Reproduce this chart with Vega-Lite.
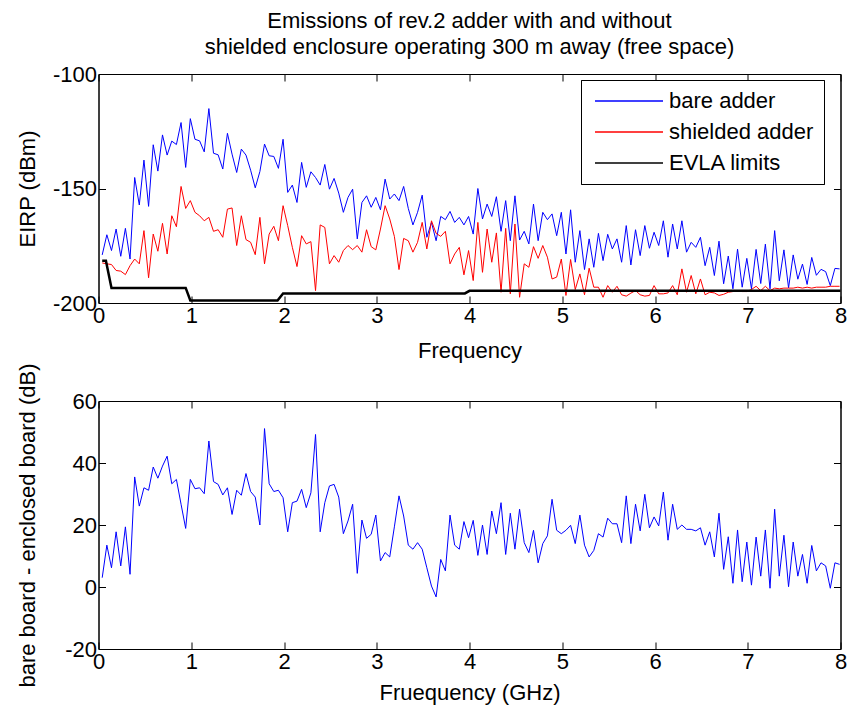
{
  "$schema": "https://vega.github.io/schema/vega-lite/v6.json",
  "background": "white",
  "padding": {"left": 15.5, "top": 9, "right": 2, "bottom": 5},
  "bounds": "flush",
  "spacing": 98,
  "title": {
    "text": ["Emissions of rev.2 adder with and without", "shielded enclosure operating 300 m away (free space)"],
    "font": "Liberation Sans", "fontSize": 22, "fontWeight": "normal", "color": "black",
    "lineHeight": 26, "anchor": "middle", "frame": "group", "offset": 4
  },
  "datasets": {
    "spec": [
      {"f":0.04,"bare adder":-179.0,"shielded adder":-182.5,"diff":3.0},
      {"f":0.09,"bare adder":-170.2,"shielded adder":-182.9,"diff":13.5},
      {"f":0.14,"bare adder":-177.1,"shielded adder":-183.2,"diff":6.2},
      {"f":0.19,"bare adder":-167.7,"shielded adder":-185.8,"diff":17.8},
      {"f":0.24,"bare adder":-179.6,"shielded adder":-186.1,"diff":6.8},
      {"f":0.29,"bare adder":-167.4,"shielded adder":-187.6,"diff":19.4},
      {"f":0.34,"bare adder":-180.8,"shielded adder":-183.7,"diff":4.1},
      {"f":0.39,"bare adder":-145.2,"shielded adder":-180.8,"diff":35.5},
      {"f":0.44,"bare adder":-157.2,"shielded adder":-182.9,"diff":26.1},
      {"f":0.49,"bare adder":-137.6,"shielded adder":-168.4,"diff":32.0},
      {"f":0.54,"bare adder":-157.8,"shielded adder":-189.0,"diff":31.2},
      {"f":0.59,"bare adder":-130.9,"shielded adder":-169.9,"diff":38.7},
      {"f":0.64,"bare adder":-142.4,"shielded adder":-177.4,"diff":35.1},
      {"f":0.69,"bare adder":-126.6,"shielded adder":-165.2,"diff":39.0},
      {"f":0.74,"bare adder":-135.4,"shielded adder":-178.6,"diff":42.2},
      {"f":0.79,"bare adder":-129.3,"shielded adder":-161.9,"diff":33.3},
      {"f":0.84,"bare adder":-130.8,"shielded adder":-166.7,"diff":34.7},
      {"f":0.89,"bare adder":-121.2,"shielded adder":-149.1,"diff":26.7},
      {"f":0.94,"bare adder":-140.8,"shielded adder":-158.7,"diff":18.9},
      {"f":0.99,"bare adder":-119.5,"shielded adder":-155.3,"diff":34.7},
      {"f":1.04,"bare adder":-128.5,"shielded adder":-160.4,"diff":31.7},
      {"f":1.09,"bare adder":-129.2,"shielded adder":-161.9,"diff":32.0},
      {"f":1.14,"bare adder":-134.0,"shielded adder":-164.1,"diff":30.1},
      {"f":1.19,"bare adder":-115.1,"shielded adder":-162.6,"diff":47.1},
      {"f":1.24,"bare adder":-134.6,"shielded adder":-168.7,"diff":34.0},
      {"f":1.29,"bare adder":-135.3,"shielded adder":-168.0,"diff":33.1},
      {"f":1.34,"bare adder":-141.5,"shielded adder":-171.3,"diff":29.7},
      {"f":1.39,"bare adder":-125.9,"shielded adder":-159.0,"diff":32.0},
      {"f":1.44,"bare adder":-135.0,"shielded adder":-158.5,"diff":23.4},
      {"f":1.49,"bare adder":-143.0,"shielded adder":-174.9,"diff":31.2},
      {"f":1.54,"bare adder":-132.8,"shielded adder":-161.9,"diff":29.6},
      {"f":1.59,"bare adder":-135.4,"shielded adder":-172.3,"diff":36.6},
      {"f":1.64,"bare adder":-142.0,"shielded adder":-173.5,"diff":30.8},
      {"f":1.69,"bare adder":-149.7,"shielded adder":-178.9,"diff":29.0},
      {"f":1.74,"bare adder":-142.6,"shielded adder":-162.6,"diff":20.0},
      {"f":1.79,"bare adder":-130.6,"shielded adder":-182.9,"diff":51.1},
      {"f":1.84,"bare adder":-135.7,"shielded adder":-169.9,"diff":33.3},
      {"f":1.89,"bare adder":-136.0,"shielded adder":-166.5,"diff":30.8},
      {"f":1.94,"bare adder":-141.2,"shielded adder":-172.8,"diff":31.2},
      {"f":1.99,"bare adder":-128.5,"shielded adder":-157.5,"diff":28.8},
      {"f":2.04,"bare adder":-151.7,"shielded adder":-166.2,"diff":17.8},
      {"f":2.09,"bare adder":-148.5,"shielded adder":-175.7,"diff":27.2},
      {"f":2.14,"bare adder":-156.1,"shielded adder":-184.1,"diff":27.7},
      {"f":2.19,"bare adder":-138.6,"shielded adder":-170.6,"diff":31.5},
      {"f":2.24,"bare adder":-149.5,"shielded adder":-174.2,"diff":25.6},
      {"f":2.29,"bare adder":-142.7,"shielded adder":-173.2,"diff":30.4},
      {"f":2.34,"bare adder":-145.2,"shielded adder":-194.6,"diff":49.2},
      {"f":2.39,"bare adder":-148.5,"shielded adder":-165.9,"diff":17.8},
      {"f":2.44,"bare adder":-139.5,"shielded adder":-167.0,"diff":27.2},
      {"f":2.49,"bare adder":-150.3,"shielded adder":-182.9,"diff":32.6},
      {"f":2.54,"bare adder":-145.6,"shielded adder":-179.3,"diff":33.1},
      {"f":2.59,"bare adder":-152.0,"shielded adder":-182.2,"diff":29.0},
      {"f":2.64,"bare adder":-160.4,"shielded adder":-177.1,"diff":17.2},
      {"f":2.69,"bare adder":-153.9,"shielded adder":-174.9,"diff":21.3},
      {"f":2.74,"bare adder":-150.3,"shielded adder":-176.7,"diff":26.7},
      {"f":2.79,"bare adder":-172.0,"shielded adder":-174.9,"diff":4.4},
      {"f":2.84,"bare adder":-156.1,"shielded adder":-177.8,"diff":21.6},
      {"f":2.89,"bare adder":-153.2,"shielded adder":-168.0,"diff":15.7},
      {"f":2.94,"bare adder":-158.2,"shielded adder":-175.4,"diff":17.0},
      {"f":2.99,"bare adder":-153.9,"shielded adder":-176.8,"diff":23.2},
      {"f":3.04,"bare adder":-159.3,"shielded adder":-167.7,"diff":8.4},
      {"f":3.09,"bare adder":-145.9,"shielded adder":-157.5,"diff":11.1},
      {"f":3.14,"bare adder":-154.6,"shielded adder":-163.3,"diff":9.7},
      {"f":3.19,"bare adder":-152.4,"shielded adder":-170.9,"diff":19.4},
      {"f":3.24,"bare adder":-155.3,"shielded adder":-185.4,"diff":29.4},
      {"f":3.29,"bare adder":-149.1,"shielded adder":-171.8,"diff":22.9},
      {"f":3.34,"bare adder":-158.7,"shielded adder":-172.8,"diff":13.5},
      {"f":3.39,"bare adder":-165.9,"shielded adder":-177.8,"diff":12.2},
      {"f":3.44,"bare adder":-160.4,"shielded adder":-173.5,"diff":14.3},
      {"f":3.49,"bare adder":-152.9,"shielded adder":-164.8,"diff":12.2},
      {"f":3.54,"bare adder":-171.3,"shielded adder":-176.4,"diff":6.2},
      {"f":3.59,"bare adder":-164.8,"shielded adder":-164.1,"diff":0.3},
      {"f":3.64,"bare adder":-172.8,"shielded adder":-169.6,"diff":-3.2},
      {"f":3.69,"bare adder":-162.2,"shielded adder":-170.9,"diff":8.9},
      {"f":3.74,"bare adder":-163.6,"shielded adder":-168.7,"diff":5.2},
      {"f":3.79,"bare adder":-160.0,"shielded adder":-182.9,"diff":23.2},
      {"f":3.84,"bare adder":-164.8,"shielded adder":-178.6,"diff":13.5},
      {"f":3.89,"bare adder":-162.6,"shielded adder":-175.7,"diff":12.2},
      {"f":3.94,"bare adder":-165.9,"shielded adder":-187.7,"diff":21.1},
      {"f":3.99,"bare adder":-162.2,"shielded adder":-177.1,"diff":15.9},
      {"f":4.04,"bare adder":-169.9,"shielded adder":-190.2,"diff":21.5},
      {"f":4.09,"bare adder":-150.0,"shielded adder":-164.8,"diff":10.2},
      {"f":4.14,"bare adder":-163.3,"shielded adder":-186.6,"diff":20.0},
      {"f":4.19,"bare adder":-156.8,"shielded adder":-167.7,"diff":10.5},
      {"f":4.24,"bare adder":-162.2,"shielded adder":-182.2,"diff":24.5},
      {"f":4.29,"bare adder":-153.6,"shielded adder":-169.4,"diff":17.2},
      {"f":4.34,"bare adder":-168.7,"shielded adder":-195.3,"diff":27.2},
      {"f":4.39,"bare adder":-155.3,"shielded adder":-167.4,"diff":10.5},
      {"f":4.44,"bare adder":-172.8,"shielded adder":-196.0,"diff":23.8},
      {"f":4.49,"bare adder":-153.2,"shielded adder":-165.5,"diff":12.2},
      {"f":4.54,"bare adder":-172.5,"shielded adder":-197.5,"diff":25.1},
      {"f":4.59,"bare adder":-168.7,"shielded adder":-182.9,"diff":14.3},
      {"f":4.64,"bare adder":-174.2,"shielded adder":-184.4,"diff":11.1},
      {"f":4.69,"bare adder":-156.8,"shielded adder":-175.4,"diff":18.3},
      {"f":4.74,"bare adder":-172.8,"shielded adder":-180.5,"diff":7.8},
      {"f":4.79,"bare adder":-160.4,"shielded adder":-174.9,"diff":14.0},
      {"f":4.84,"bare adder":-163.6,"shielded adder":-180.0,"diff":16.5},
      {"f":4.89,"bare adder":-161.1,"shielded adder":-189.5,"diff":28.3},
      {"f":4.94,"bare adder":-170.6,"shielded adder":-188.7,"diff":18.3},
      {"f":4.99,"bare adder":-160.4,"shielded adder":-180.8,"diff":17.2},
      {"f":5.04,"bare adder":-178.6,"shielded adder":-196.7,"diff":18.3},
      {"f":5.09,"bare adder":-159.3,"shielded adder":-181.0,"diff":19.9},
      {"f":5.14,"bare adder":-182.2,"shielded adder":-194.1,"diff":14.0},
      {"f":5.19,"bare adder":-168.4,"shielded adder":-187.3,"diff":23.2},
      {"f":5.24,"bare adder":-185.4,"shielded adder":-196.4,"diff":13.5},
      {"f":5.29,"bare adder":-172.0,"shielded adder":-184.8,"diff":9.7},
      {"f":5.34,"bare adder":-184.4,"shielded adder":-193.1,"diff":11.8},
      {"f":5.39,"bare adder":-169.6,"shielded adder":-193.1,"diff":17.2},
      {"f":5.44,"bare adder":-181.5,"shielded adder":-197.5,"diff":16.1},
      {"f":5.49,"bare adder":-170.0,"shielded adder":-192.4,"diff":22.2},
      {"f":5.54,"bare adder":-176.4,"shielded adder":-195.3,"diff":20.4},
      {"f":5.59,"bare adder":-172.0,"shielded adder":-192.7,"diff":20.4},
      {"f":5.64,"bare adder":-182.2,"shielded adder":-196.4,"diff":14.3},
      {"f":5.69,"bare adder":-166.2,"shielded adder":-197.0,"diff":29.4},
      {"f":5.74,"bare adder":-183.4,"shielded adder":-195.7,"diff":14.0},
      {"f":5.79,"bare adder":-168.0,"shielded adder":-194.6,"diff":26.7},
      {"f":5.84,"bare adder":-179.3,"shielded adder":-196.4,"diff":18.1},
      {"f":5.89,"bare adder":-166.2,"shielded adder":-197.0,"diff":29.9},
      {"f":5.94,"bare adder":-176.1,"shielded adder":-196.7,"diff":19.1},
      {"f":5.99,"bare adder":-169.1,"shielded adder":-192.4,"diff":22.6},
      {"f":6.04,"bare adder":-174.9,"shielded adder":-196.0,"diff":19.7},
      {"f":6.09,"bare adder":-164.1,"shielded adder":-196.0,"diff":30.6},
      {"f":6.14,"bare adder":-180.0,"shielded adder":-195.6,"diff":15.1},
      {"f":6.19,"bare adder":-165.5,"shielded adder":-192.4,"diff":26.7},
      {"f":6.24,"bare adder":-176.4,"shielded adder":-196.4,"diff":18.6},
      {"f":6.29,"bare adder":-164.1,"shielded adder":-185.1,"diff":20.0},
      {"f":6.34,"bare adder":-177.8,"shielded adder":-195.3,"diff":18.6},
      {"f":6.39,"bare adder":-173.5,"shielded adder":-188.0,"diff":18.6},
      {"f":6.44,"bare adder":-175.7,"shielded adder":-196.0,"diff":18.1},
      {"f":6.49,"bare adder":-171.3,"shielded adder":-189.5,"diff":19.1},
      {"f":6.54,"bare adder":-183.7,"shielded adder":-196.4,"diff":13.5},
      {"f":6.59,"bare adder":-175.7,"shielded adder":-195.3,"diff":17.8},
      {"f":6.64,"bare adder":-188.0,"shielded adder":-195.6,"diff":9.7},
      {"f":6.69,"bare adder":-173.0,"shielded adder":-196.7,"diff":23.8},
      {"f":6.74,"bare adder":-191.6,"shielded adder":-196.2,"diff":5.7},
      {"f":6.79,"bare adder":-179.5,"shielded adder":-195.3,"diff":16.2},
      {"f":6.84,"bare adder":-193.8,"shielded adder":-195.0,"diff":1.2},
      {"f":6.89,"bare adder":-176.5,"shielded adder":-194.6,"diff":18.4},
      {"f":6.94,"bare adder":-193.1,"shielded adder":-195.0,"diff":1.7},
      {"f":6.99,"bare adder":-180.5,"shielded adder":-195.0,"diff":14.5},
      {"f":7.04,"bare adder":-193.8,"shielded adder":-194.1,"diff":0.6},
      {"f":7.09,"bare adder":-176.6,"shielded adder":-192.7,"diff":16.1},
      {"f":7.14,"bare adder":-191.5,"shielded adder":-194.6,"diff":3.5},
      {"f":7.19,"bare adder":-174.3,"shielded adder":-192.7,"diff":18.4},
      {"f":7.24,"bare adder":-193.8,"shielded adder":-194.6,"diff":-0.4},
      {"f":7.29,"bare adder":-168.4,"shielded adder":-193.5,"diff":25.1},
      {"f":7.34,"bare adder":-190.3,"shielded adder":-193.8,"diff":3.5},
      {"f":7.39,"bare adder":-176.8,"shielded adder":-193.5,"diff":16.7},
      {"f":7.44,"bare adder":-193.4,"shielded adder":-193.5,"diff":0.1},
      {"f":7.49,"bare adder":-179.0,"shielded adder":-193.5,"diff":14.5},
      {"f":7.54,"bare adder":-189.6,"shielded adder":-193.1,"diff":3.5},
      {"f":7.59,"bare adder":-183.0,"shielded adder":-193.5,"diff":10.5},
      {"f":7.64,"bare adder":-191.9,"shielded adder":-193.1,"diff":1.2},
      {"f":7.69,"bare adder":-180.1,"shielded adder":-193.5,"diff":13.4},
      {"f":7.74,"bare adder":-187.9,"shielded adder":-193.1,"diff":5.2},
      {"f":7.79,"bare adder":-185.3,"shielded adder":-193.1,"diff":7.8},
      {"f":7.84,"bare adder":-186.3,"shielded adder":-193.1,"diff":6.8},
      {"f":7.89,"bare adder":-192.4,"shielded adder":-192.7,"diff":-0.4},
      {"f":7.94,"bare adder":-184.9,"shielded adder":-192.7,"diff":7.8},
      {"f":7.99,"bare adder":-185.1,"shielded adder":-192.7,"diff":7.3}
    ],
    "evla": [
      {"f":0.04,"s":"EVLA limits","v":-181.5},
      {"f":0.08,"s":"EVLA limits","v":-181.5},
      {"f":0.14,"s":"EVLA limits","v":-193.4},
      {"f":0.94,"s":"EVLA limits","v":-193.4},
      {"f":0.99,"s":"EVLA limits","v":-198.9},
      {"f":1.93,"s":"EVLA limits","v":-198.9},
      {"f":1.99,"s":"EVLA limits","v":-195.8},
      {"f":3.95,"s":"EVLA limits","v":-195.8},
      {"f":4.0,"s":"EVLA limits","v":-194.7},
      {"f":8.0,"s":"EVLA limits","v":-194.7}
    ]
  },
  "vconcat": [
    {
      "width": 742,
      "height": 229,
      "layer": [
        {
          "data": {"name": "spec"},
          "transform": [{"fold": ["bare adder", "shielded adder"], "as": ["s", "v"]}],
          "mark": {"type": "line", "strokeJoin": "miter"},
          "encoding": {
            "x": {"field": "f", "type": "quantitative", "scale": {"domain": [0, 8], "nice": false, "zero": false},
                  "axis": {"orient": "bottom", "values": [0,1,2,3,4,5,6,7,8], "title": "Frequency", "titlePadding": 14.5}},
            "y": {"field": "v", "type": "quantitative", "scale": {"domain": [-200, -100], "nice": false, "zero": false},
                  "axis": {"orient": "left", "values": [-200,-150,-100], "title": "EIRP (dBm)", "titlePadding": 12.5,
                           "labelExpr": "replace(datum.label, '\u2212', '-')"}},
            "color": {"field": "s", "type": "nominal",
                      "scale": {"domain": ["bare adder", "shielded adder", "EVLA limits"], "range": ["#0000ff", "#ff0000", "#000000"]},
                      "legend": {"title": null, "orient": "none", "legendX": 482.5, "legendY": 6}},
            "strokeWidth": {"field": "s", "type": "nominal",
                      "scale": {"type": "ordinal", "domain": ["bare adder", "shielded adder", "EVLA limits"], "range": [1, 1, 3.5]},
                      "legend": {"title": null, "orient": "none", "legendX": 482.5, "legendY": 6}}
          }
        },
        {
          "data": {"name": "evla"},
          "mark": {"type": "line", "strokeJoin": "miter"},
          "encoding": {
            "x": {"field": "f", "type": "quantitative", "axis": null},
            "y": {"field": "v", "type": "quantitative", "axis": null},
            "color": {"field": "s", "type": "nominal"},
            "strokeWidth": {"field": "s", "type": "nominal"}
          }
        },
        {
          "data": {"name": "evla"},
          "mark": {"type": "point", "opacity": 0},
          "encoding": {
            "x": {"field": "f", "type": "quantitative", "axis": {"orient": "top", "values": [0,1,2,3,4,5,6,7,8], "labels": false, "title": null}},
            "y": {"field": "v", "type": "quantitative", "axis": {"orient": "right", "values": [-200,-150,-100], "labels": false, "title": null}}
          }
        }
      ]
    },
    {
      "width": 742,
      "height": 248,
      "data": {"name": "spec"},
      "layer": [
        {
          "mark": {"type": "line", "color": "#0000ff", "strokeWidth": 1, "strokeJoin": "miter"},
          "encoding": {
            "x": {"field": "f", "type": "quantitative", "scale": {"domain": [0, 8], "nice": false, "zero": false},
                  "axis": {"orient": "bottom", "values": [0,1,2,3,4,5,6,7,8], "title": "Fruequency (GHz)", "titlePadding": 10}},
            "y": {"field": "diff", "type": "quantitative", "scale": {"domain": [-20, 60], "nice": false, "zero": false},
                  "axis": {"orient": "left", "values": [-20,0,20,40,60], "title": "bare board - enclosed board (dB)", "titlePadding": 25,
                           "labelExpr": "replace(datum.label, '\u2212', '-')"}}
          }
        },
        {
          "mark": {"type": "point", "opacity": 0},
          "encoding": {
            "x": {"field": "f", "type": "quantitative", "axis": {"orient": "top", "values": [0,1,2,3,4,5,6,7,8], "labels": false, "title": null}},
            "y": {"field": "diff", "type": "quantitative", "axis": {"orient": "right", "values": [-20,0,20,40,60], "labels": false, "title": null}}
          }
        }
      ]
    }
  ],
  "config": {
    "font": "Liberation Sans",
    "view": {"stroke": "black", "strokeWidth": 1},
    "axis": {
      "grid": false, "domainColor": "black", "domainWidth": 1, "tickColor": "black", "tickWidth": 1,
      "tickSize": -7, "labelPadding": 9, "labelColor": "black", "labelFont": "Liberation Sans", "labelFontSize": 22,
      "titleColor": "black", "titleFont": "Liberation Sans", "titleFontSize": 22, "titleFontWeight": "normal", "labelFlush": false, "labelOverlap": false
    },
    "legend": {
      "symbolType": "M-4,0H4", "symbolSize": 289, "labelFont": "Liberation Sans", "labelFontSize": 22, "labelColor": "black",
      "strokeColor": "black", "fillColor": "white", "padding": 10, "rowPadding": 9, "labelOffset": 29, "symbolOffset": 27, "cornerRadius": 0
    }
  }
}
